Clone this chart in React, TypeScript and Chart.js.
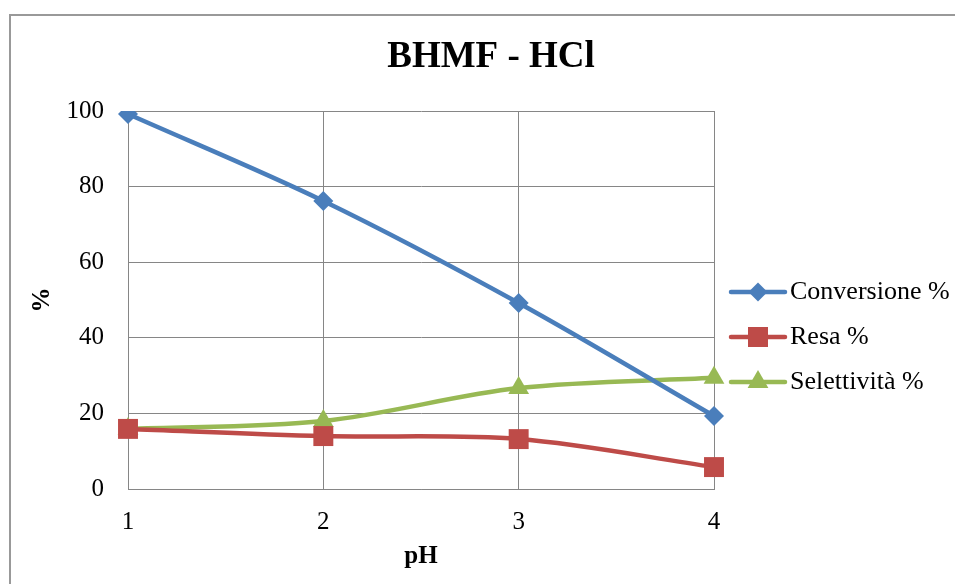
import React, { useEffect, useRef } from "react";
import { Chart, registerables } from "chart.js";

Chart.register(...registerables);

const categories = ["1", "2", "3", "4"];
const conversione = [99.2, 76.2, 49.2, 19.3];
const resa = [15.9, 14.0, 13.2, 5.8];
const selettivita = [15.9, 18.0, 26.7, 29.4];
const seriesNames = ["Conversione %", "Resa %", "Selettività %"];
const chartTitle = "BHMF - HCl";
const xTitle = "pH";
const yTitle = "%";

const BLUE = "#4A7EBB";
const RED = "#BE4B48";
const GREEN = "#98B954";
const GRID = "#868686";
const FONT = "'Liberation Serif', 'Times New Roman', serif";

function drawMarker(ctx: CanvasRenderingContext2D, style: string, x: number, y: number, color: string) {
  ctx.save();
  ctx.fillStyle = color;
  ctx.beginPath();
  if (style === "rectRot") {
    const r = 9.5;
    ctx.moveTo(x, y - r);
    ctx.lineTo(x + r, y);
    ctx.lineTo(x, y + r);
    ctx.lineTo(x - r, y);
    ctx.closePath();
  } else if (style === "rect") {
    const s = 10;
    ctx.rect(x - s, y - s, 2 * s, 2 * s);
  } else {
    const r = 12;
    ctx.moveTo(x, y - r);
    ctx.lineTo(x + r * Math.sin(Math.PI / 3), y + r / 2);
    ctx.lineTo(x - r * Math.sin(Math.PI / 3), y + r / 2);
    ctx.closePath();
  }
  ctx.fill();
  ctx.restore();
}

const decorPlugin = {
  id: "decor",
  beforeDraw(chart: any) {
    const ctx = chart.ctx as CanvasRenderingContext2D;
    ctx.save();
    ctx.fillStyle = "#ffffff";
    ctx.fillRect(0, 0, chart.width, chart.height);
    ctx.strokeStyle = "#999999";
    ctx.lineWidth = 2;
    ctx.strokeRect(10, 15, chart.width + 20, chart.height + 20);
    ctx.restore();
  },
  afterDraw(chart: any) {
    const ctx = chart.ctx as CanvasRenderingContext2D;
    ctx.save();
    ctx.fillStyle = "#000";
    ctx.font = `bold 37px ${FONT}`;
    ctx.textAlign = "center";
    ctx.textBaseline = "middle";
    ctx.fillText(chartTitle, 491, 57);
    const rows = [
      { name: seriesNames[0], color: BLUE, style: "rectRot", y: 292 },
      { name: seriesNames[1], color: RED, style: "rect", y: 337 },
      { name: seriesNames[2], color: GREEN, style: "triangle", y: 382 },
    ];
    ctx.font = `26px ${FONT}`;
    ctx.textAlign = "left";
    for (const r of rows) {
      ctx.strokeStyle = r.color;
      ctx.lineWidth = 4.5;
      ctx.lineCap = "round";
      ctx.beginPath();
      ctx.moveTo(731, r.y);
      ctx.lineTo(785, r.y);
      ctx.stroke();
      drawMarker(ctx, r.style, 758, r.y, r.color);
      ctx.fillStyle = "#000";
      ctx.fillText(r.name, 790, r.y);
    }
    ctx.restore();
  },
};

export default function App() {
  const ref = useRef<HTMLCanvasElement | null>(null);
  useEffect(() => {
    if (!ref.current) return;
    const chart = new Chart(ref.current, {
      type: "line",
      data: {
        labels: categories,
        datasets: [
          {
            label: seriesNames[0],
            data: conversione,
            borderColor: BLUE,
            backgroundColor: BLUE,
            pointStyle: "rectRot",
            pointRadius: 10,
            pointBorderWidth: 0,
            borderWidth: 4.5,
            tension: 0.33,
          },
          {
            label: seriesNames[1],
            data: resa,
            borderColor: RED,
            backgroundColor: RED,
            pointStyle: "rect",
            pointRadius: 14.1,
            pointBorderWidth: 0,
            borderWidth: 4.5,
            tension: 0.33,
          },
          {
            label: seriesNames[2],
            data: selettivita,
            borderColor: GREEN,
            backgroundColor: GREEN,
            pointStyle: "triangle",
            pointRadius: 12,
            pointBorderWidth: 0,
            borderWidth: 4.5,
            tension: 0.33,
          },
        ],
      },
      options: {
        responsive: false,
        animation: false,
        layout: { padding: { top: 111, right: 241, bottom: 0, left: 0 } },
        plugins: {
          legend: { display: false },
          title: { display: false },
          tooltip: { enabled: false },
        },
        scales: {
          x: {
            offset: false,
            grid: { color: GRID, lineWidth: 1, drawTicks: false },
            border: { color: GRID, width: 1 },
            ticks: { color: "#000", font: { family: FONT, size: 25 }, padding: 18, maxRotation: 0 },
            title: { display: true, text: xTitle, color: "#000", font: { family: FONT, size: 25, weight: "bold" }, padding: { top: 0, bottom: 12 } },
            afterFit: (s: any) => { s.height = 95; },
          },
          y: {
            min: 0,
            max: 100,
            grid: { color: GRID, lineWidth: 1, drawTicks: false },
            border: { color: GRID, width: 1 },
            ticks: { stepSize: 20, color: "#000", font: { family: FONT, size: 25 }, padding: 24 },
            title: { display: true, text: yTitle, color: "#000", font: { family: FONT, size: 25, weight: "bold" }, padding: { top: 28, bottom: 0 } },
            afterFit: (s: any) => { s.width = 128; },
          },
        },
      },
      plugins: [decorPlugin],
    } as any);
    return () => chart.destroy();
  }, []);
  return (
    <div style={{ position: "fixed", left: 0, top: 0, width: 955, height: 584 }}>
      <canvas ref={ref} width={955} height={584} style={{ display: "block" }} />
    </div>
  );
}
